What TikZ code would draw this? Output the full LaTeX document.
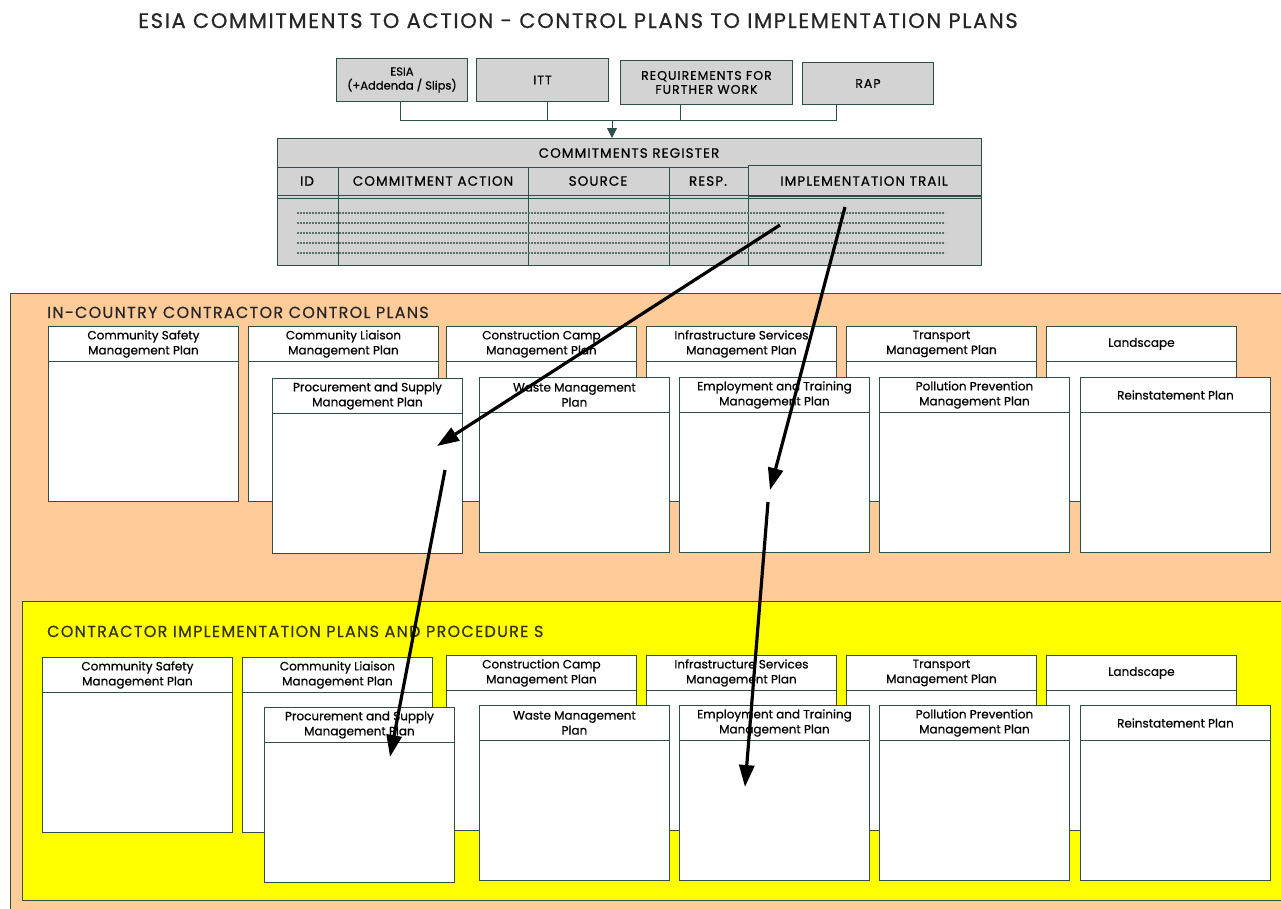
\documentclass[tikz,border=0pt]{standalone}
\usepackage{fontspec}
\setmainfont{Poppins}[FakeBold=0.6]
\newfontfamily\spaced{Poppins}[FakeBold=0.6, LetterSpace=8]
\usetikzlibrary{arrows.meta}
\definecolor{peach}{HTML}{FFCC99}
\definecolor{yel}{HTML}{FFFF00}
\definecolor{edge}{HTML}{2F4F4A}
\definecolor{gr}{HTML}{D3D3D3}
\definecolor{olive}{HTML}{333300}
\tikzset{
  srcbox/.style={draw=edge, fill=gr, line width=0.9pt, inner sep=0pt, align=center, font=\spaced\fontsize{12.5}{14}\selectfont},
  planbody/.style={draw=edge, fill=white, line width=0.9pt, minimum width=190pt, minimum height=175pt, inner sep=0pt},
  planhead/.style={draw=edge, fill=white, line width=0.9pt, minimum width=190pt, minimum height=35pt, inner sep=0pt, align=center, font=\fontsize{12}{15}\selectfont},
  reghead/.style={inner sep=0pt, font=\spaced\fontsize{13.5}{15}\selectfont},
  bigarrow/.style={line width=3.2pt, -{Triangle[length=22pt,width=15pt]}},
  conn/.style={draw=edge, line width=0.8pt},
  secttitle/.style={anchor=base west, inner sep=0pt, font=\spaced\fontsize{16}{18}\selectfont},
}
\newcommand\planbox[4]{%
  \node[planbody, anchor=north west] (#1) at (#2,#3) {};
  \node[planhead, anchor=north west] (#1h) at (#2,#3) {#4};
}
\begin{document}
\begin{tikzpicture}[x=1pt,y=-1pt]
\useasboundingbox (0,0) rectangle (1281,908);
\fill[white] (0,0) rectangle (1281,908);
% title
\node[anchor=base, inner sep=0pt, font=\spaced\fontsize{21}{24}\selectfont, text=black!85] (title) at (578,28) {ESIA COMMITMENTS TO ACTION - CONTROL PLANS TO IMPLEMENTATION PLANS};
% source boxes
\node[srcbox, minimum width=131pt, minimum height=43pt, anchor=north west, font=\fontsize{11.5}{14}\selectfont] (esia) at (336,58) {ESIA\\(+Addenda / Slips)};
\node[srcbox, minimum width=132pt, minimum height=43pt, anchor=north west] (itt) at (476,58) {ITT};
\node[srcbox, minimum width=172pt, minimum height=44pt, anchor=north west] (req) at (620,60) {REQUIREMENTS FOR\\FURTHER WORK};
\node[srcbox, minimum width=131pt, minimum height=42pt, anchor=north west] (rap) at (802,62) {RAP};
\coordinate (esiad) at (400,101);
\coordinate (ittd) at (547,101);
\coordinate (reqd) at (680,104);
\coordinate (rapd) at (836,104);
\coordinate (busL) at (400,120);
\coordinate (busR) at (836,120);
\coordinate (busM) at (612,120);
\draw[conn] (esiad) -- (busL) -- (busR) -- (rapd);
\draw[conn] (ittd) -- (ittd |- busL);
\draw[conn] (reqd) -- (reqd |- busL);
% register
\node[draw=edge, fill=gr, line width=0.9pt, minimum width=704pt, minimum height=127pt, anchor=north west, inner sep=0pt] (reg) at (277,138) {};
\draw[conn, -{Triangle[length=10pt,width=10pt]}] (busM) -- (busM |- reg.north);
\node[reghead] (regt) at (629,153) {COMMITMENTS REGISTER};
\draw[draw=edge, line width=0.9pt] (277,167) -- (748,167);
\node[draw=edge, fill=gr, line width=0.9pt, minimum width=233pt, minimum height=31pt, anchor=north west, inner sep=0pt] (trail) at (748,165) {};
\draw[draw=edge, line width=0.9pt] (338,167) -- (338,265) (528,167) -- (528,265) (669,167) -- (669,265) (748,196) -- (748,265);
\draw[draw=edge, line width=0.9pt] (277,195) -- (981,195);
\draw[draw=edge, line width=0.9pt] (277,198.5) -- (981,198.5);
\node[reghead] (hid) at (307,181) {ID};
\node[reghead] (hca) at (433,181) {COMMITMENT ACTION};
\node[reghead] (hsrc) at (598,181) {SOURCE};
\node[reghead] (hresp) at (708,181) {RESP.};
\node[reghead] (htrail) at (864,181) {IMPLEMENTATION TRAIL};
\foreach \yy in {213,223,233,243,253}
  \draw[draw=edge!80, line width=1.4pt, dash pattern=on 2pt off 1pt] (297,\yy) -- (945,\yy);
% orange region
\node[draw=edge, fill=peach, line width=1pt, minimum width=1290pt, minimum height=630pt, anchor=north west, inner sep=0pt] (orng) at (10,293) {};
\node[secttitle, text=black!85] (ortitle) at (47,318) {IN-COUNTRY CONTRACTOR CONTROL PLANS};
\planbox{oa}{48}{326}{Community Safety\\Management Plan}
\planbox{ob}{248}{326}{Community Liaison\\Management Plan}
\planbox{oc}{446}{326}{Construction Camp\\Management Plan}
\planbox{od}{646}{326}{Infrastructure Services\\Management Plan}
\planbox{oe}{846}{326}{Transport\\Management Plan}
\planbox{of}{1046}{326}{Landscape}
\planbox{og}{272}{378}{Procurement and Supply\\Management Plan}
\planbox{oh}{479}{377}{Waste Management\\Plan}
\planbox{oi}{679}{377}{Employment and Training\\Management Plan}
\planbox{oj}{879}{377}{Pollution Prevention\\Management Plan}
\planbox{ok}{1080}{377}{Reinstatement Plan}
% yellow region
\node[draw=edge, fill=yel, line width=1pt, minimum width=1280pt, minimum height=299pt, anchor=north west, inner sep=0pt] (ylw) at (22,601) {};
\node[secttitle, text=olive] (yltitle) at (47,637) {CONTRACTOR IMPLEMENTATION PLANS AND PROCEDURE S};
\planbox{ya}{42}{657}{Community Safety\\Management Plan}
\planbox{yb}{242}{657}{Community Liaison\\Management Plan}
\planbox{yc}{446}{655}{Construction Camp\\Management Plan}
\planbox{yd}{646}{655}{Infrastructure Services\\Management Plan}
\planbox{ye}{846}{655}{Transport\\Management Plan}
\planbox{yf}{1046}{655}{Landscape}
\planbox{yg}{264}{707}{Procurement and Supply\\Management Plan}
\planbox{yh}{479}{705}{Waste Management\\Plan}
\planbox{yi}{679}{705}{Employment and Training\\Management Plan}
\planbox{yj}{879}{705}{Pollution Prevention\\Management Plan}
\planbox{yk}{1080}{705}{Reinstatement Plan}
% arrows
\coordinate (t1s) at (780,225);
\coordinate (t1e) at (437,446);
\coordinate (t2s) at (845,207);
\coordinate (t2e) at (770,490);
\coordinate (t3s) at (445,470);
\coordinate (t3e) at (390,757);
\coordinate (t4s) at (768,502);
\coordinate (t4e) at (745,787);
\draw[bigarrow] (t1s) -- (t1e);
\draw[bigarrow] (t2s) -- (t2e);
\draw[bigarrow] (t3s) -- (t3e);
\draw[bigarrow] (t4s) -- (t4e);
\end{tikzpicture}
\end{document}
